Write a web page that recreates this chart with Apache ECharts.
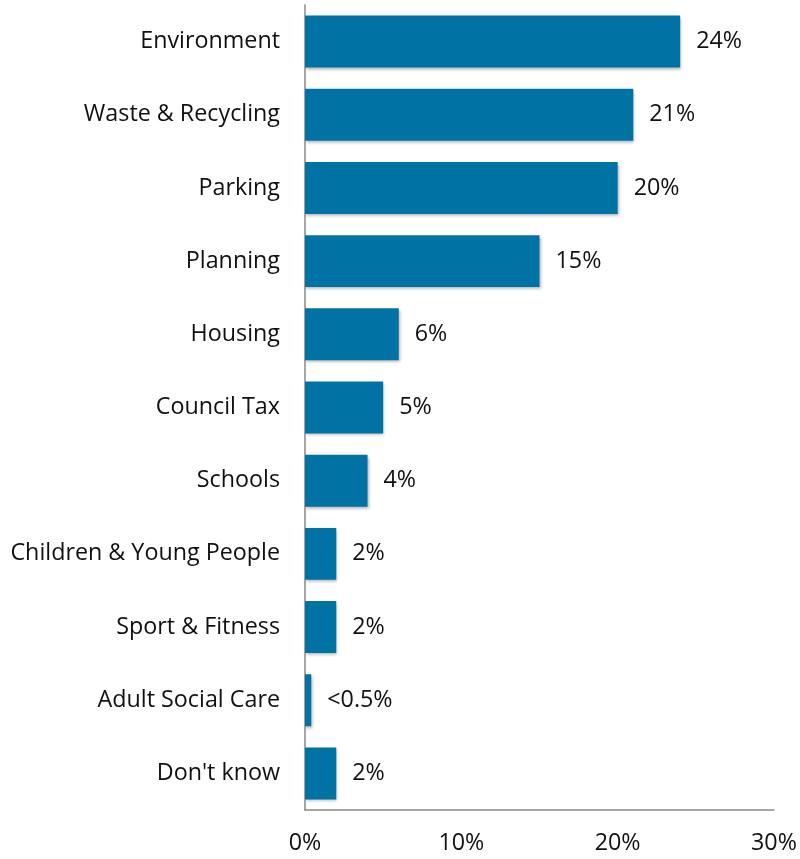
<!DOCTYPE html>
<html>
<head>
<meta charset="utf-8">
<script src="https://cdn.jsdelivr.net/npm/echarts@6/dist/echarts.min.js"></script>
<style>
  html, body { margin: 0; padding: 0; background: #fff; }
  #chart { width: 800px; height: 859px; }
</style>
</head>
<body>
<div id="chart"></div>
<script>
// Service areas, top to bottom
const categories = [
  'Environment', 'Waste & Recycling', 'Parking', 'Planning', 'Housing',
  'Council Tax', 'Schools', 'Children & Young People', 'Sport & Fitness',
  'Adult Social Care', "Don't know"
];
// Share of responses (%)
const values = [24, 21, 20, 15, 6, 5, 4, 2, 2, 0.4, 2];
// Text shown at the end of each bar
const valueLabels = ['24%', '21%', '20%', '15%', '6%', '5%', '4%', '2%', '2%', '<0.5%', '2%'];
// Value axis ticks
const xTicks = [0, 10, 20, 30];

const font = '"Open Sans", "Noto Sans", sans-serif';
const fontSize = 23.3;
const chart = echarts.init(document.getElementById('chart'));
chart.setOption({
  animation: false,
  grid: { left: 305, right: 26, top: 5, bottom: 49, containLabel: false },
  xAxis: {
    type: 'value',
    min: xTicks[0],
    max: xTicks[xTicks.length - 1],
    interval: 10,
    splitLine: { show: false },
    axisLine: { show: true, lineStyle: { color: '#8a8a8a', width: 1.5 } },
    axisTick: { show: false },
    axisLabel: {
      formatter: v => v + '%',
      margin: 22,
      color: '#111',
      fontFamily: font,
      fontSize: fontSize
    }
  },
  yAxis: {
    type: 'category',
    inverse: true,
    data: categories,
    axisLine: { show: true, lineStyle: { color: '#8a8a8a', width: 1.5 } },
    axisTick: { show: false },
    axisLabel: {
      margin: 25,
      color: '#111',
      fontFamily: font,
      fontSize: fontSize
    }
  },
  series: [{
    type: 'bar',
    data: values,
    barCategoryGap: '29%',
    itemStyle: {
      color: '#0073a4',
      shadowColor: 'rgba(0,0,0,0.3)',
      shadowBlur: 3,
      shadowOffsetX: 1,
      shadowOffsetY: 2
    },
    label: {
      show: true,
      position: 'right',
      distance: 16,
      formatter: p => valueLabels[p.dataIndex],
      color: '#111',
      fontFamily: font,
      fontSize: fontSize
    }
  }]
});
</script>
</body>
</html>
